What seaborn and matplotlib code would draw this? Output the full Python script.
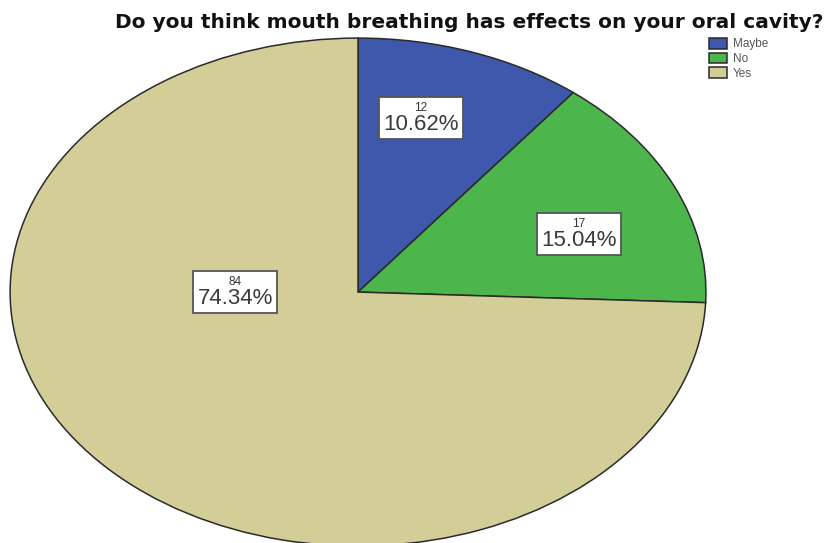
import matplotlib
matplotlib.use("Agg")
import matplotlib.pyplot as plt
import seaborn as sns
from matplotlib.offsetbox import TextArea, VPacker, AnnotationBbox

# Survey responses
categories = ["Maybe", "No", "Yes"]
counts = [12, 17, 84]
percent_labels = ["10.62%", "15.04%", "74.34%"]

sns.set_theme(style="white")
plt.rcParams["font.family"] = ["Liberation Sans", "DejaVu Sans"]

palette = sns.color_palette(["#3E58AC", "#4CB54C", "#D3CE97"])

fig = plt.figure(figsize=(8.27, 5.43), dpi=100)
ax = fig.add_axes([0, 0, 1, 1])

wedges, _ = ax.pie(
    counts,
    colors=palette,
    startangle=90,
    counterclock=False,
    wedgeprops=dict(edgecolor="#2a2a2a", linewidth=1.1),
)

# Stretched (elliptical) pie, partly cut off at the bottom
ax.set_aspect("auto")
ax.set_xlim(-1.029, 1.348)
ax.set_ylim(-0.988, 1.150)
ax.axis("off")

# Label anchors in data units
label_xy = [(0.181, 0.685), (0.635, 0.228), (-0.353, 0.0)]
for n, pct, xy in zip(counts, percent_labels, label_xy):
    box = VPacker(
        children=[
            TextArea(str(n), textprops=dict(size=8.5, color="#333333")),
            TextArea(pct, textprops=dict(size=16, color="#3a3a3a")),
        ],
        align="center", pad=0, sep=0,
    )
    ab = AnnotationBbox(
        box, xy, frameon=True, pad=0.3, box_alignment=(0.5, 0.5),
        bboxprops=dict(facecolor="white", edgecolor="#555555", linewidth=1.3),
    )
    ax.add_artist(ab)

fig.text(469 / 827, 1 - 22 / 543,
         "Do you think mouth breathing has effects on your oral cavity?",
         ha="center", va="center", fontsize=14.5, fontweight="bold",
         color="#111111", family="DejaVu Sans")

fig.legend(
    wedges, categories, loc="upper left",
    bbox_to_anchor=(709 / 827, 1 - 38 / 543),
    frameon=False, fontsize=8.5, handlelength=1.5, handleheight=1.0,
    handletextpad=0.5, labelspacing=0.2, borderpad=0, borderaxespad=0,
    labelcolor="#555555",
)

fig.savefig("out.png", dpi=100)
